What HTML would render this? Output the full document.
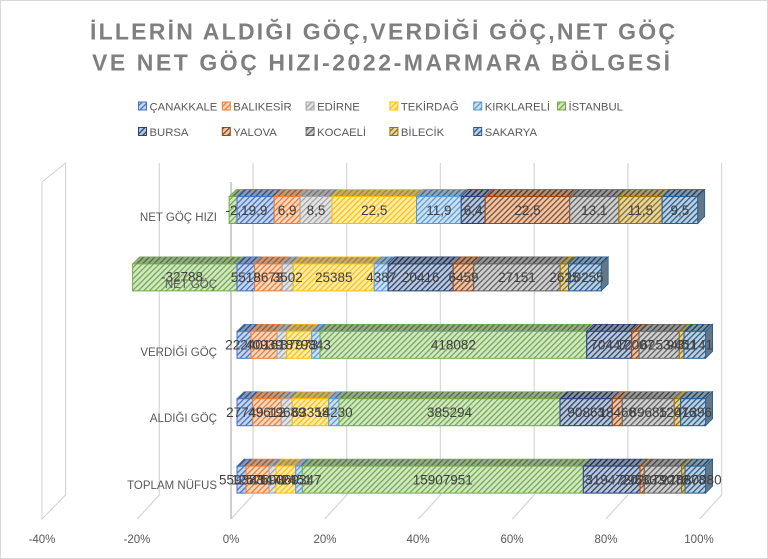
<!DOCTYPE html>
<html><head><meta charset="utf-8"><style>
html,body{margin:0;padding:0;background:#fff;}
svg{display:block;font-family:"Liberation Sans",sans-serif;}
.d{font-size:13.5px;fill:#404040;text-anchor:middle;}
.ax{font-size:11.5px;fill:#595959;text-anchor:middle;}
.cat{font-size:11.5px;fill:#595959;text-anchor:end;}
.lg{font-size:11.3px;fill:#595959;}
.s0{fill:url(#f0);stroke:#4472C4}.u0{fill:url(#t0);stroke:#4472C4}
.s1{fill:url(#f1);stroke:#ED7D31}.u1{fill:url(#t1);stroke:#ED7D31}
.s2{fill:url(#f2);stroke:#A5A5A5}.u2{fill:url(#t2);stroke:#A5A5A5}
.s3{fill:url(#f3);stroke:#FFC000}.u3{fill:url(#t3);stroke:#FFC000}
.s4{fill:url(#f4);stroke:#5B9BD5}.u4{fill:url(#t4);stroke:#5B9BD5}
.s5{fill:url(#f5);stroke:#70AD47}.u5{fill:url(#t5);stroke:#70AD47}
.s6{fill:url(#f6);stroke:#264478}.u6{fill:url(#t6);stroke:#264478}
.s7{fill:url(#f7);stroke:#9E480E}.u7{fill:url(#t7);stroke:#9E480E}
.s8{fill:url(#f8);stroke:#636363}.u8{fill:url(#t8);stroke:#636363}
.s9{fill:url(#f9);stroke:#997300}.u9{fill:url(#t9);stroke:#997300}
.s10{fill:url(#f10);stroke:#255E91}.u10{fill:url(#t10);stroke:#255E91}
rect,polygon{stroke-width:1}
.u0,.u1,.u2,.u3,.u4,.u5,.u6,.u7,.u8,.u9,.u10{stroke-width:.7}
.sd{fill:#647789;stroke:#255E91;stroke-width:.8}
</style></head><body>
<svg width="768" height="559" viewBox="0 0 768 559" xmlns="http://www.w3.org/2000/svg">
<defs>
<pattern id="f0" width="4" height="4" patternUnits="userSpaceOnUse" patternTransform="rotate(45)"><rect width="4" height="4" fill="#c7d5ed" stroke="none"/><rect width="1.3" height="4" fill="#4472C4" stroke="none"/></pattern>
<pattern id="f1" width="4" height="4" patternUnits="userSpaceOnUse" patternTransform="rotate(45)"><rect width="4" height="4" fill="#fad8c1" stroke="none"/><rect width="1.3" height="4" fill="#ED7D31" stroke="none"/></pattern>
<pattern id="f2" width="4" height="4" patternUnits="userSpaceOnUse" patternTransform="rotate(45)"><rect width="4" height="4" fill="#e4e4e4" stroke="none"/><rect width="1.3" height="4" fill="#A5A5A5" stroke="none"/></pattern>
<pattern id="f3" width="4" height="4" patternUnits="userSpaceOnUse" patternTransform="rotate(45)"><rect width="4" height="4" fill="#ffecb3" stroke="none"/><rect width="1.3" height="4" fill="#FFC000" stroke="none"/></pattern>
<pattern id="f4" width="4" height="4" patternUnits="userSpaceOnUse" patternTransform="rotate(45)"><rect width="4" height="4" fill="#cee1f2" stroke="none"/><rect width="1.3" height="4" fill="#5B9BD5" stroke="none"/></pattern>
<pattern id="f5" width="4" height="4" patternUnits="userSpaceOnUse" patternTransform="rotate(45)"><rect width="4" height="4" fill="#d4e6c8" stroke="none"/><rect width="1.3" height="4" fill="#70AD47" stroke="none"/></pattern>
<pattern id="f6" width="4" height="4" patternUnits="userSpaceOnUse" patternTransform="rotate(45)"><rect width="4" height="4" fill="#bec7d6" stroke="none"/><rect width="1.3" height="4" fill="#264478" stroke="none"/></pattern>
<pattern id="f7" width="4" height="4" patternUnits="userSpaceOnUse" patternTransform="rotate(45)"><rect width="4" height="4" fill="#e2c8b7" stroke="none"/><rect width="1.3" height="4" fill="#9E480E" stroke="none"/></pattern>
<pattern id="f8" width="4" height="4" patternUnits="userSpaceOnUse" patternTransform="rotate(45)"><rect width="4" height="4" fill="#d0d0d0" stroke="none"/><rect width="1.3" height="4" fill="#636363" stroke="none"/></pattern>
<pattern id="f9" width="4" height="4" patternUnits="userSpaceOnUse" patternTransform="rotate(45)"><rect width="4" height="4" fill="#e0d5b3" stroke="none"/><rect width="1.3" height="4" fill="#997300" stroke="none"/></pattern>
<pattern id="f10" width="4" height="4" patternUnits="userSpaceOnUse" patternTransform="rotate(45)"><rect width="4" height="4" fill="#becfde" stroke="none"/><rect width="1.3" height="4" fill="#255E91" stroke="none"/></pattern>
<pattern id="t0" width="4" height="4" patternUnits="userSpaceOnUse" patternTransform="rotate(45)"><rect width="4" height="4" fill="#8e99ad" stroke="none"/><rect width="1.4" height="4" fill="#30508a" stroke="none"/></pattern>
<pattern id="t1" width="4" height="4" patternUnits="userSpaceOnUse" patternTransform="rotate(45)"><rect width="4" height="4" fill="#b89d8a" stroke="none"/><rect width="1.4" height="4" fill="#a85822" stroke="none"/></pattern>
<pattern id="t2" width="4" height="4" patternUnits="userSpaceOnUse" patternTransform="rotate(45)"><rect width="4" height="4" fill="#a6a6a6" stroke="none"/><rect width="1.4" height="4" fill="#747474" stroke="none"/></pattern>
<pattern id="t3" width="4" height="4" patternUnits="userSpaceOnUse" patternTransform="rotate(45)"><rect width="4" height="4" fill="#bcad80" stroke="none"/><rect width="1.4" height="4" fill="#b48800" stroke="none"/></pattern>
<pattern id="t4" width="4" height="4" patternUnits="userSpaceOnUse" patternTransform="rotate(45)"><rect width="4" height="4" fill="#95a4b2" stroke="none"/><rect width="1.4" height="4" fill="#406d96" stroke="none"/></pattern>
<pattern id="t5" width="4" height="4" patternUnits="userSpaceOnUse" patternTransform="rotate(45)"><rect width="4" height="4" fill="#9aa890" stroke="none"/><rect width="1.4" height="4" fill="#4f7a32" stroke="none"/></pattern>
<pattern id="t6" width="4" height="4" patternUnits="userSpaceOnUse" patternTransform="rotate(45)"><rect width="4" height="4" fill="#888f9b" stroke="none"/><rect width="1.4" height="4" fill="#1a3055" stroke="none"/></pattern>
<pattern id="t7" width="4" height="4" patternUnits="userSpaceOnUse" patternTransform="rotate(45)"><rect width="4" height="4" fill="#a59082" stroke="none"/><rect width="1.4" height="4" fill="#6f330a" stroke="none"/></pattern>
<pattern id="t8" width="4" height="4" patternUnits="userSpaceOnUse" patternTransform="rotate(45)"><rect width="4" height="4" fill="#969696" stroke="none"/><rect width="1.4" height="4" fill="#464646" stroke="none"/></pattern>
<pattern id="t9" width="4" height="4" patternUnits="userSpaceOnUse" patternTransform="rotate(45)"><rect width="4" height="4" fill="#a39a7f" stroke="none"/><rect width="1.4" height="4" fill="#6c5100" stroke="none"/></pattern>
<pattern id="t10" width="4" height="4" patternUnits="userSpaceOnUse" patternTransform="rotate(45)"><rect width="4" height="4" fill="#8896a2" stroke="none"/><rect width="1.4" height="4" fill="#1a4266" stroke="none"/></pattern>
</defs>

<rect x="0.5" y="0.5" width="767" height="558" fill="#fff" stroke="#d9d9d9" stroke-width="1"/>

<!-- Title -->
<text x="90" y="39.5" textLength="585" lengthAdjust="spacing" style="font-size:23px;font-weight:bold;fill:#7f7f7f">İLLERİN ALDIĞI GÖÇ,VERDİĞİ GÖÇ,NET GÖÇ</text>
<text x="92" y="70.5" textLength="578" lengthAdjust="spacing" style="font-size:23px;font-weight:bold;fill:#7f7f7f">VE NET GÖÇ HIZI-2022-MARMARA BÖLGESİ</text>

<!-- Legend -->
<rect class="s0" x="138.5" y="102" width="8" height="8"/><text class="lg" x="149.5" y="110.3">ÇANAKKALE</text>
<rect class="s1" x="222.3" y="102" width="8" height="8"/><text class="lg" x="233.3" y="110.3">BALIKESİR</text>
<rect class="s2" x="306.1" y="102" width="8" height="8"/><text class="lg" x="317.1" y="110.3">EDİRNE</text>
<rect class="s3" x="389.9" y="102" width="8" height="8"/><text class="lg" x="400.9" y="110.3">TEKİRDAĞ</text>
<rect class="s4" x="473.7" y="102" width="8" height="8"/><text class="lg" x="484.7" y="110.3">KIRKLARELİ</text>
<rect class="s5" x="557.5" y="102" width="8" height="8"/><text class="lg" x="568.5" y="110.3">İSTANBUL</text>
<rect class="s6" x="138.5" y="127.5" width="8" height="8"/><text class="lg" x="149.5" y="135.8">BURSA</text>
<rect class="s7" x="222.3" y="127.5" width="8" height="8"/><text class="lg" x="233.3" y="135.8">YALOVA</text>
<rect class="s8" x="306.1" y="127.5" width="8" height="8"/><text class="lg" x="317.1" y="135.8">KOCAELİ</text>
<rect class="s9" x="389.9" y="127.5" width="8" height="8"/><text class="lg" x="400.9" y="135.8">BİLECİK</text>
<rect class="s10" x="473.7" y="127.5" width="8" height="8"/><text class="lg" x="484.7" y="135.8">SAKARYA</text>

<!-- Side wall -->
<polygon points="42,182 65.6,163 65.6,495 42,519" fill="#fff" stroke="#d0d0d0" stroke-width="1.5"/>
<!-- Gridlines -->
<g stroke="#d9d9d9" stroke-width="1.3" fill="none">
<polyline points="159.3,163 159.3,495 137.3,519"/>
<polyline points="253,163 253,495 231,519"/>
<polyline points="346.7,163 346.7,495 324.7,519"/>
<polyline points="440.4,163 440.4,495 418.4,519"/>
<polyline points="534.2,163 534.2,495 512.2,519"/>
<polyline points="627.9,163 627.9,495 605.9,519"/>
<polyline points="721.6,163 721.6,495 699.6,519"/>
</g>
<line x1="231" y1="182" x2="231" y2="519" stroke="#bfbfbf" stroke-width="1.5"/>

<!-- Axis labels -->
<text class="ax" x="42" y="543">-40%</text>
<text class="ax" x="137" y="543">-20%</text>
<text class="ax" x="231" y="543">0%</text>
<text class="ax" x="325" y="543">20%</text>
<text class="ax" x="418" y="543">40%</text>
<text class="ax" x="512" y="543">60%</text>
<text class="ax" x="606" y="543">80%</text>
<text class="ax" x="699" y="543">100%</text>

<!-- Row 1: NET GÖÇ HIZI -->
<g transform="translate(0,196.5)">
<polygon class="u5" points="229.1,0 237,0 244,-7 236.1,-7"/>
<polygon class="u0" points="237,0 274.2,0 281.2,-7 244,-7"/>
<polygon class="u1" points="274.2,0 300.1,0 307.1,-7 281.2,-7"/>
<polygon class="u2" points="300.1,0 332,0 339,-7 307.1,-7"/>
<polygon class="u3" points="332,0 416.5,0 423.5,-7 339,-7"/>
<polygon class="u4" points="416.5,0 461.2,0 468.2,-7 423.5,-7"/>
<polygon class="u6" points="461.2,0 485.2,0 492.2,-7 468.2,-7"/>
<polygon class="u7" points="485.2,0 569.7,0 576.7,-7 492.2,-7"/>
<polygon class="u8" points="569.7,0 618.9,0 625.9,-7 576.7,-7"/>
<polygon class="u9" points="618.9,0 662.1,0 669.1,-7 625.9,-7"/>
<polygon class="u10" points="662.1,0 697.7,0 704.7,-7 669.1,-7"/>
<polygon class="sd" points="697.7,0 704.7,-7 704.7,20 697.7,27"/>
<rect class="s5" x="229.1" y="0" width="7.9" height="27"/>
<rect class="s0" x="237" y="0" width="37.2" height="27"/>
<rect class="s1" x="274.2" y="0" width="25.9" height="27"/>
<rect class="s2" x="300.1" y="0" width="31.9" height="27"/>
<rect class="s3" x="332" y="0" width="84.5" height="27"/>
<rect class="s4" x="416.5" y="0" width="44.7" height="27"/>
<rect class="s6" x="461.2" y="0" width="24" height="27"/>
<rect class="s7" x="485.2" y="0" width="84.5" height="27"/>
<rect class="s8" x="569.7" y="0" width="49.2" height="27"/>
<rect class="s9" x="618.9" y="0" width="43.2" height="27"/>
<rect class="s10" x="662.1" y="0" width="35.6" height="27"/>
<text class="d" x="237" y="18.3">-2,1</text>
<text class="d" x="258" y="18.3">9,9</text>
<text class="d" x="287.2" y="18.3">6,9</text>
<text class="d" x="316" y="18.3">8,5</text>
<text class="d" x="374.3" y="18.3">22,5</text>
<text class="d" x="438.9" y="18.3">11,9</text>
<text class="d" x="473.2" y="18.3">6,4</text>
<text class="d" x="527.5" y="18.3">22,5</text>
<text class="d" x="594.3" y="18.3">13,1</text>
<text class="d" x="640.5" y="18.3">11,5</text>
<text class="d" x="679.9" y="18.3">9,5</text>
</g>

<!-- Row 2: NET GÖÇ -->
<g transform="translate(0,263.9)">
<polygon class="u5" points="132.6,0 237,0 244,-7 139.6,-7"/>
<polygon class="u0" points="237,0 254.6,0 261.6,-7 244,-7"/>
<polygon class="u1" points="254.6,0 282.2,0 289.2,-7 261.6,-7"/>
<polygon class="u2" points="282.2,0 293.3,0 300.3,-7 289.2,-7"/>
<polygon class="u3" points="293.3,0 374.2,0 381.2,-7 300.3,-7"/>
<polygon class="u4" points="374.2,0 388.1,0 395.1,-7 381.2,-7"/>
<polygon class="u6" points="388.1,0 453.2,0 460.2,-7 395.1,-7"/>
<polygon class="u7" points="453.2,0 473.7,0 480.7,-7 460.2,-7"/>
<polygon class="u8" points="473.7,0 560.2,0 567.2,-7 480.7,-7"/>
<polygon class="u9" points="560.2,0 568.6,0 575.6,-7 567.2,-7"/>
<polygon class="u10" points="568.6,0 601.2,0 608.2,-7 575.6,-7"/>
<polygon class="sd" points="601.2,0 608.2,-7 608.2,20 601.2,27"/>
<rect class="s5" x="132.6" y="0" width="104.4" height="27"/>
<rect class="s0" x="237" y="0" width="17.6" height="27"/>
<rect class="s1" x="254.6" y="0" width="27.6" height="27"/>
<rect class="s2" x="282.2" y="0" width="11.1" height="27"/>
<rect class="s3" x="293.3" y="0" width="80.9" height="27"/>
<rect class="s4" x="374.2" y="0" width="13.9" height="27"/>
<rect class="s6" x="388.1" y="0" width="65.1" height="27"/>
<rect class="s7" x="453.2" y="0" width="20.5" height="27"/>
<rect class="s8" x="473.7" y="0" width="86.5" height="27"/>
<rect class="s9" x="560.2" y="0" width="8.4" height="27"/>
<rect class="s10" x="568.6" y="0" width="32.6" height="27"/>
<text class="d" x="182" y="17.5">-32788</text>
<text class="d" x="245.8" y="18.3">5518</text>
<text class="d" x="268.4" y="18.3">8673</text>
<text class="d" x="287.8" y="18.3">3502</text>
<text class="d" x="333.8" y="18.3">25385</text>
<text class="d" x="381.2" y="18.3">4387</text>
<text class="d" x="420.7" y="18.3">20416</text>
<text class="d" x="463.5" y="18.3">6459</text>
<text class="d" x="517" y="18.3">27151</text>
<text class="d" x="564.4" y="18.3">2625</text>
<text class="d" x="584.9" y="18.3">10255</text>
</g>

<!-- Row 3: VERDİĞİ GÖÇ -->
<g transform="translate(0,331.3)">
<polygon class="u0" points="237,0 251,0 258,-7 244,-7"/>
<polygon class="u1" points="251,0 277,0 284,-7 258,-7"/>
<polygon class="u2" points="277,0 286.7,0 293.7,-7 284,-7"/>
<polygon class="u3" points="286.7,0 311.7,0 318.7,-7 293.7,-7"/>
<polygon class="u4" points="311.7,0 320,0 327,-7 318.7,-7"/>
<polygon class="u5" points="320,0 586.7,0 593.7,-7 327,-7"/>
<polygon class="u6" points="586.7,0 631.7,0 638.7,-7 593.7,-7"/>
<polygon class="u7" points="631.7,0 639,0 646,-7 638.7,-7"/>
<polygon class="u8" points="639,0 679.3,0 686.3,-7 646,-7"/>
<polygon class="u9" points="679.3,0 684,0 691,-7 686.3,-7"/>
<polygon class="u10" points="684,0 705.6,0 712.6,-7 691,-7"/>
<polygon class="sd" points="705.6,0 712.6,-7 712.6,20 705.6,27"/>
<rect class="s0" x="237" y="0" width="14" height="27"/>
<rect class="s1" x="251" y="0" width="26" height="27"/>
<rect class="s2" x="277" y="0" width="9.7" height="27"/>
<rect class="s3" x="286.7" y="0" width="25" height="27"/>
<rect class="s4" x="311.7" y="0" width="8.3" height="27"/>
<rect class="s5" x="320" y="0" width="266.7" height="27"/>
<rect class="s6" x="586.7" y="0" width="45" height="27"/>
<rect class="s7" x="631.7" y="0" width="7.3" height="27"/>
<rect class="s8" x="639" y="0" width="40.3" height="27"/>
<rect class="s9" x="679.3" y="0" width="4.7" height="27"/>
<rect class="s10" x="684" y="0" width="21.6" height="27"/>
<text class="d" x="244" y="18.3">22240</text>
<text class="d" x="264" y="18.3">40939</text>
<text class="d" x="281.9" y="18.3">16187</text>
<text class="d" x="299.2" y="18.3">37973</text>
<text class="d" x="315.9" y="18.3">9843</text>
<text class="d" x="453.4" y="18.3">418082</text>
<text class="d" x="609.2" y="18.3">70447</text>
<text class="d" x="635.4" y="18.3">12007</text>
<text class="d" x="659.2" y="18.3">62534</text>
<text class="d" x="681.7" y="18.3">9451</text>
<text class="d" x="694.8" y="18.3">31141</text>
</g>

<!-- Row 4: ALDIĞI GÖÇ -->
<g transform="translate(0,398.7)">
<polygon class="u0" points="237,0 252.7,0 259.7,-7 244,-7"/>
<polygon class="u1" points="252.7,0 281.3,0 288.3,-7 259.7,-7"/>
<polygon class="u2" points="281.3,0 292.3,0 299.3,-7 288.3,-7"/>
<polygon class="u3" points="292.3,0 328.7,0 335.7,-7 299.3,-7"/>
<polygon class="u4" points="328.7,0 339,0 346,-7 335.7,-7"/>
<polygon class="u5" points="339,0 560,0 567,-7 346,-7"/>
<polygon class="u6" points="560,0 612.3,0 619.3,-7 567,-7"/>
<polygon class="u7" points="612.3,0 622.3,0 629.3,-7 619.3,-7"/>
<polygon class="u8" points="622.3,0 674.3,0 681.3,-7 629.3,-7"/>
<polygon class="u9" points="674.3,0 680.7,0 687.7,-7 681.3,-7"/>
<polygon class="u10" points="680.7,0 705.6,0 712.6,-7 687.7,-7"/>
<polygon class="sd" points="705.6,0 712.6,-7 712.6,20 705.6,27"/>
<rect class="s0" x="237" y="0" width="15.7" height="27"/>
<rect class="s1" x="252.7" y="0" width="28.6" height="27"/>
<rect class="s2" x="281.3" y="0" width="11" height="27"/>
<rect class="s3" x="292.3" y="0" width="36.4" height="27"/>
<rect class="s4" x="328.7" y="0" width="10.3" height="27"/>
<rect class="s5" x="339" y="0" width="221" height="27"/>
<rect class="s6" x="560" y="0" width="52.3" height="27"/>
<rect class="s7" x="612.3" y="0" width="10" height="27"/>
<rect class="s8" x="622.3" y="0" width="52" height="27"/>
<rect class="s9" x="674.3" y="0" width="6.4" height="27"/>
<rect class="s10" x="680.7" y="0" width="24.9" height="27"/>
<text class="d" x="244.9" y="18.3">27749</text>
<text class="d" x="267" y="18.3">49612</text>
<text class="d" x="286.8" y="18.3">19689</text>
<text class="d" x="310.5" y="18.3">63358</text>
<text class="d" x="333.9" y="18.3">14230</text>
<text class="d" x="449.5" y="18.3">385294</text>
<text class="d" x="586.2" y="18.3">90863</text>
<text class="d" x="617.3" y="18.3">18466</text>
<text class="d" x="648.3" y="18.3">89685</text>
<text class="d" x="677.5" y="18.3">12076</text>
<text class="d" x="693.2" y="18.3">41396</text>
</g>

<!-- Row 5: TOPLAM NÜFUS -->
<g transform="translate(0,466.1)">
<polygon class="u0" points="237,0 246,0 253,-7 244,-7"/>
<polygon class="u1" points="246,0 269,0 276,-7 253,-7"/>
<polygon class="u2" points="269,0 276,0 283,-7 276,-7"/>
<polygon class="u3" points="276,0 295.7,0 302.7,-7 283,-7"/>
<polygon class="u4" points="295.7,0 302.3,0 309.3,-7 302.7,-7"/>
<polygon class="u5" points="302.3,0 583.3,0 590.3,-7 309.3,-7"/>
<polygon class="u6" points="583.3,0 640,0 647,-7 590.3,-7"/>
<polygon class="u7" points="640,0 644.3,0 651.3,-7 647,-7"/>
<polygon class="u8" points="644.3,0 681.7,0 688.7,-7 651.3,-7"/>
<polygon class="u9" points="681.7,0 685,0 692,-7 688.7,-7"/>
<polygon class="u10" points="685,0 705.6,0 712.6,-7 692,-7"/>
<polygon class="sd" points="705.6,0 712.6,-7 712.6,20 705.6,27"/>
<rect class="s0" x="237" y="0" width="9" height="27"/>
<rect class="s1" x="246" y="0" width="23" height="27"/>
<rect class="s2" x="269" y="0" width="7" height="27"/>
<rect class="s3" x="276" y="0" width="19.7" height="27"/>
<rect class="s4" x="295.7" y="0" width="6.6" height="27"/>
<rect class="s5" x="302.3" y="0" width="281" height="27"/>
<rect class="s6" x="583.3" y="0" width="56.7" height="27"/>
<rect class="s7" x="640" y="0" width="4.3" height="27"/>
<rect class="s8" x="644.3" y="0" width="37.4" height="27"/>
<rect class="s9" x="681.7" y="0" width="3.3" height="27"/>
<rect class="s10" x="685" y="0" width="20.6" height="27"/>
<text class="d" x="241.5" y="18.3">559383</text>
<text class="d" x="257.5" y="18.3">1257590</text>
<text class="d" x="272.5" y="18.3">414714</text>
<text class="d" x="285.9" y="18.3">1142451</text>
<text class="d" x="299" y="18.3">369347</text>
<text class="d" x="442.8" y="18.3">15907951</text>
<text class="d" x="611.7" y="18.3">3194720</text>
<text class="d" x="642.2" y="18.3">296333</text>
<text class="d" x="663" y="18.3">2079072</text>
<text class="d" x="683.4" y="18.3">228673</text>
<text class="d" x="695.3" y="18.3">1080080</text>
</g>

<!-- Category labels -->
<text class="cat" x="217" y="220.8">NET GÖÇ HIZI</text>
<text class="cat" x="217" y="288">NET GÖÇ</text>
<text class="cat" x="217" y="355.8">VERDİĞİ GÖÇ</text>
<text class="cat" x="217" y="422">ALDIĞI GÖÇ</text>
<text class="cat" x="217" y="489">TOPLAM NÜFUS</text>
</svg>
</body></html>
